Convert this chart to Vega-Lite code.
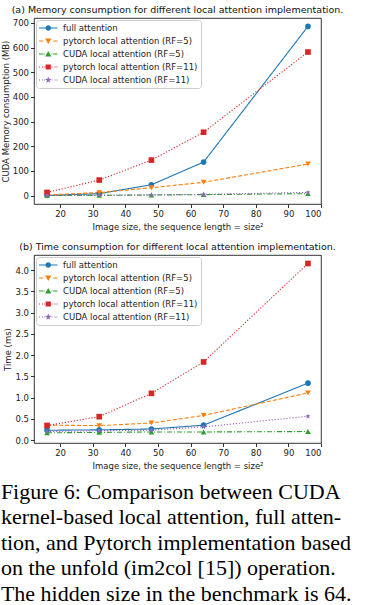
{
  "$schema": "https://vega.github.io/schema/vega-lite/v6.json",
  "padding": {"left": 0, "top": 4, "right": 2, "bottom": 0},
  "background": "white",
  "datasets": {
    "memory": [
      {"size": 16, "series": "full attention", "value": 1},
      {"size": 32, "series": "full attention", "value": 8},
      {"size": 48, "series": "full attention", "value": 44},
      {"size": 64, "series": "full attention", "value": 136},
      {"size": 96, "series": "full attention", "value": 686},
      {"size": 16, "series": "pytorch local attention (RF=5)", "value": 3},
      {"size": 32, "series": "pytorch local attention (RF=5)", "value": 12},
      {"size": 48, "series": "pytorch local attention (RF=5)", "value": 32},
      {"size": 64, "series": "pytorch local attention (RF=5)", "value": 54},
      {"size": 96, "series": "pytorch local attention (RF=5)", "value": 128},
      {"size": 16, "series": "CUDA local attention (RF=5)", "value": 0.3},
      {"size": 32, "series": "CUDA local attention (RF=5)", "value": 1},
      {"size": 48, "series": "CUDA local attention (RF=5)", "value": 2.5},
      {"size": 64, "series": "CUDA local attention (RF=5)", "value": 4},
      {"size": 96, "series": "CUDA local attention (RF=5)", "value": 8},
      {"size": 16, "series": "pytorch local attention (RF=11)", "value": 13},
      {"size": 32, "series": "pytorch local attention (RF=11)", "value": 63},
      {"size": 48, "series": "pytorch local attention (RF=11)", "value": 144},
      {"size": 64, "series": "pytorch local attention (RF=11)", "value": 257},
      {"size": 96, "series": "pytorch local attention (RF=11)", "value": 582},
      {"size": 16, "series": "CUDA local attention (RF=11)", "value": 0.5},
      {"size": 32, "series": "CUDA local attention (RF=11)", "value": 2},
      {"size": 48, "series": "CUDA local attention (RF=11)", "value": 3},
      {"size": 64, "series": "CUDA local attention (RF=11)", "value": 5},
      {"size": 96, "series": "CUDA local attention (RF=11)", "value": 13}
    ],
    "time": [
      {"size": 16, "series": "full attention", "value": 0.23},
      {"size": 32, "series": "full attention", "value": 0.24},
      {"size": 48, "series": "full attention", "value": 0.26},
      {"size": 64, "series": "full attention", "value": 0.35},
      {"size": 96, "series": "full attention", "value": 1.34},
      {"size": 16, "series": "pytorch local attention (RF=5)", "value": 0.35},
      {"size": 32, "series": "pytorch local attention (RF=5)", "value": 0.34},
      {"size": 48, "series": "pytorch local attention (RF=5)", "value": 0.40},
      {"size": 64, "series": "pytorch local attention (RF=5)", "value": 0.58},
      {"size": 96, "series": "pytorch local attention (RF=5)", "value": 1.11},
      {"size": 16, "series": "CUDA local attention (RF=5)", "value": 0.17},
      {"size": 32, "series": "CUDA local attention (RF=5)", "value": 0.18},
      {"size": 48, "series": "CUDA local attention (RF=5)", "value": 0.19},
      {"size": 64, "series": "CUDA local attention (RF=5)", "value": 0.19},
      {"size": 96, "series": "CUDA local attention (RF=5)", "value": 0.20},
      {"size": 16, "series": "pytorch local attention (RF=11)", "value": 0.34},
      {"size": 32, "series": "pytorch local attention (RF=11)", "value": 0.55},
      {"size": 48, "series": "pytorch local attention (RF=11)", "value": 1.10},
      {"size": 64, "series": "pytorch local attention (RF=11)", "value": 1.84},
      {"size": 96, "series": "pytorch local attention (RF=11)", "value": 4.16},
      {"size": 16, "series": "CUDA local attention (RF=11)", "value": 0.20},
      {"size": 32, "series": "CUDA local attention (RF=11)", "value": 0.22},
      {"size": 48, "series": "CUDA local attention (RF=11)", "value": 0.23},
      {"size": 64, "series": "CUDA local attention (RF=11)", "value": 0.31},
      {"size": 96, "series": "CUDA local attention (RF=11)", "value": 0.56}
    ]
  },
  "title": {
    "text": [
      "Figure 6: Comparison between CUDA",
      "kernel-based local attention, full atten-",
      "tion, and Pytorch implementation based",
      "on the unfold (im2col [15]) operation.",
      "The hidden size in the benchmark is 64."
    ],
    "orient": "bottom",
    "anchor": "start",
    "frame": "bounds",
    "font": "Liberation Serif",
    "fontSize": 22,
    "fontWeight": "normal",
    "lineHeight": 25.5,
    "offset": 12,
    "color": "black"
  },
  "config": {
    "font": "DejaVu Sans",
    "view": {"stroke": "black", "strokeWidth": 0.8},
    "axis": {
      "domain": false,
      "grid": false,
      "tickColor": "black",
      "tickSize": 3.5,
      "tickWidth": 0.8,
      "labelFont": "DejaVu Sans",
      "labelFontSize": 8.5,
      "labelColor": "#222",
      "labelPadding": 2,
      "titleFont": "DejaVu Sans",
      "titleFontSize": 8.5,
      "titleFontWeight": "normal",
      "titleColor": "#222"
    },
    "legend": {
      "orient": "top-left", "offset": 2, "padding": 3,
      "fillColor": "rgba(255,255,255,0.85)", "strokeColor": "#cccccc", "cornerRadius": 3,
      "labelFont": "DejaVu Sans", "labelFontSize": 8.5, "labelColor": "#222",
      "symbolSize": 100, "labelOffset": 14, "rowPadding": 3, "symbolStrokeWidth": 0, "symbolOpacity": 1
    }
  },
  "resolve": {
    "scale": {"x": "independent", "y": "independent", "color": "independent", "shape": "independent", "strokeDash": "independent"},
    "legend": {"color": "independent"}
  },
  "spacing": 10,
  "vconcat": [
    {
      "width": 287,
      "height": 186,
      "title": {"text": "(a) Memory consumption for different local attention implementation.", "font": "DejaVu Sans", "fontSize": 9.5, "fontWeight": "normal", "anchor": "middle", "offset": 4, "color": "#111"},
      "data": {"name": "memory"},
      "encoding": {
        "x": {"field": "size", "type": "quantitative", "scale": {"domain": [12, 100], "nice": false, "zero": false}, "axis": {"values": [20, 30, 40, 50, 60, 70, 80, 90, 100], "title": "Image size, the sequence length = size²", "titlePadding": 4}},
        "y": {"field": "value", "type": "quantitative", "scale": {"domain": [-34, 720], "nice": false, "zero": false}, "axis": {"values": [0, 100, 200, 300, 400, 500, 600, 700], "title": "CUDA Memory consumption (MB)", "titlePadding": 2}}
      },
      "resolve": {"scale": {"color": "independent", "shape": "independent"}, "legend": {"color": "independent"}},
      "layer": [
        {
          "mark": {"type": "line", "strokeWidth": 1.1},
          "encoding": {
            "color": {"field": "series", "type": "nominal", "scale": {"domain": ["full attention", "pytorch local attention (RF=5)", "CUDA local attention (RF=5)", "pytorch local attention (RF=11)", "CUDA local attention (RF=11)"], "range": ["#1f77b4", "#ff7f0e", "#2ca02c", "#d62728", "#9467bd"]}, "legend": null},
            "strokeDash": {"field": "series", "type": "nominal", "scale": {"domain": ["full attention", "pytorch local attention (RF=5)", "CUDA local attention (RF=5)", "pytorch local attention (RF=11)", "CUDA local attention (RF=11)"], "range": [[1, 0], [4, 2], [5, 2, 1, 2], [1.2, 1.8], [1.2, 1.8]]}, "legend": null}
          }
        },
        {
          "mark": {"type": "point", "filled": true, "opacity": 1, "size": 32},
          "encoding": {
            "color": {"field": "series", "type": "nominal", "scale": {"domain": ["full attention", "pytorch local attention (RF=5)", "CUDA local attention (RF=5)", "pytorch local attention (RF=11)", "CUDA local attention (RF=11)"], "range": ["#1f77b4", "#ff7f0e", "#2ca02c", "#d62728", "#9467bd"]}, "legend": null},
            "shape": {"field": "series", "type": "nominal", "scale": {"domain": ["full attention", "pytorch local attention (RF=5)", "CUDA local attention (RF=5)", "pytorch local attention (RF=11)", "CUDA local attention (RF=11)"], "range": ["circle", "triangle-down", "triangle-up", "square", "M0,-1L0.235,-0.324L0.951,-0.309L0.38,0.124L0.588,0.809L0,0.4L-0.588,0.809L-0.38,0.124L-0.951,-0.309L-0.235,-0.324Z"]}, "legend": null}
          }
        },
        {
          "mark": {"type": "point", "filled": true, "opacity": 0, "size": 100},
          "encoding": {
            "color": {"field": "series", "type": "nominal", "scale": {"domain": ["full attention", "pytorch local attention (RF=5)", "CUDA local attention (RF=5)", "pytorch local attention (RF=11)", "CUDA local attention (RF=11)"], "range": ["#1f77b4", "#ff7f0e", "#2ca02c", "#d62728", "#9467bd"]}, "legend": {"title": null}},
            "shape": {"field": "series", "type": "nominal", "scale": {"domain": ["full attention", "pytorch local attention (RF=5)", "CUDA local attention (RF=5)", "pytorch local attention (RF=11)", "CUDA local attention (RF=11)"], "range": [
              "M-1,-0.11H0.3V0.11H-1ZM1.4,-0.11H2.7V0.11H1.4ZM1.41,0A0.56,0.56 0 1,1 0.29,0A0.56,0.56 0 1,1 1.41,0Z",
              "M-1,-0.11H-0.15V0.11H-1ZM1.85,-0.11H2.7V0.11H1.85ZM0.23,-0.48L1.47,-0.48L0.85,0.6Z",
              "M-1,-0.11H-0.1V0.11H-1ZM0.05,-0.11H0.18V0.11H0.05ZM1.52,-0.11H1.65V0.11H1.52ZM1.8,-0.11H2.7V0.11H1.8ZM0.23,0.48L0.85,-0.6L1.47,0.48Z",
              "M-1,-0.11H-0.8V0.11H-1ZM-0.4,-0.11H-0.2V0.11H-0.4ZM0.05,-0.11H0.25V0.11H0.05ZM1.5,-0.11H1.7V0.11H1.5ZM2.1,-0.11H2.3V0.11H2.1ZM2.5,-0.11H2.7V0.11H2.5ZM0.33,-0.52H1.37V0.52H0.33Z",
              "M-1,-0.11H-0.8V0.11H-1ZM-0.4,-0.11H-0.2V0.11H-0.4ZM0.0,-0.11H0.15V0.11H0.0ZM1.55,-0.11H1.7V0.11H1.55ZM2.1,-0.11H2.3V0.11H2.1ZM2.5,-0.11H2.7V0.11H2.5ZM0.85,-0.7L1.015,-0.227L1.516,-0.216L1.116,0.087L1.261,0.566L0.85,0.28L0.439,0.566L0.584,0.087L0.184,-0.216L0.685,-0.227Z"
            ]}, "legend": null}
          }
        }
      ]
    },
    {
      "width": 287,
      "height": 188,
      "title": {"text": "(b) Time consumption for different local attention implementation.", "font": "DejaVu Sans", "fontSize": 9.5, "fontWeight": "normal", "anchor": "middle", "offset": 4, "color": "#111"},
      "data": {"name": "time"},
      "encoding": {
        "x": {"field": "size", "type": "quantitative", "scale": {"domain": [12, 100], "nice": false, "zero": false}, "axis": {"values": [20, 30, 40, 50, 60, 70, 80, 90, 100], "title": "Image size, the sequence length = size²", "titlePadding": 4}},
        "y": {"field": "value", "type": "quantitative", "scale": {"domain": [-0.07, 4.36], "nice": false, "zero": false}, "axis": {"values": [0, 0.5, 1, 1.5, 2, 2.5, 3, 3.5, 4], "format": ".1f", "title": "Time (ms)", "titlePadding": 2}}
      },
      "resolve": {"scale": {"color": "independent", "shape": "independent"}, "legend": {"color": "independent"}},
      "layer": [
        {
          "mark": {"type": "line", "strokeWidth": 1.1},
          "encoding": {
            "color": {"field": "series", "type": "nominal", "scale": {"domain": ["full attention", "pytorch local attention (RF=5)", "CUDA local attention (RF=5)", "pytorch local attention (RF=11)", "CUDA local attention (RF=11)"], "range": ["#1f77b4", "#ff7f0e", "#2ca02c", "#d62728", "#9467bd"]}, "legend": null},
            "strokeDash": {"field": "series", "type": "nominal", "scale": {"domain": ["full attention", "pytorch local attention (RF=5)", "CUDA local attention (RF=5)", "pytorch local attention (RF=11)", "CUDA local attention (RF=11)"], "range": [[1, 0], [4, 2], [5, 2, 1, 2], [1.2, 1.8], [1.2, 1.8]]}, "legend": null}
          }
        },
        {
          "mark": {"type": "point", "filled": true, "opacity": 1, "size": 32},
          "encoding": {
            "color": {"field": "series", "type": "nominal", "scale": {"domain": ["full attention", "pytorch local attention (RF=5)", "CUDA local attention (RF=5)", "pytorch local attention (RF=11)", "CUDA local attention (RF=11)"], "range": ["#1f77b4", "#ff7f0e", "#2ca02c", "#d62728", "#9467bd"]}, "legend": null},
            "shape": {"field": "series", "type": "nominal", "scale": {"domain": ["full attention", "pytorch local attention (RF=5)", "CUDA local attention (RF=5)", "pytorch local attention (RF=11)", "CUDA local attention (RF=11)"], "range": ["circle", "triangle-down", "triangle-up", "square", "M0,-1L0.235,-0.324L0.951,-0.309L0.38,0.124L0.588,0.809L0,0.4L-0.588,0.809L-0.38,0.124L-0.951,-0.309L-0.235,-0.324Z"]}, "legend": null}
          }
        },
        {
          "mark": {"type": "point", "filled": true, "opacity": 0, "size": 100},
          "encoding": {
            "color": {"field": "series", "type": "nominal", "scale": {"domain": ["full attention", "pytorch local attention (RF=5)", "CUDA local attention (RF=5)", "pytorch local attention (RF=11)", "CUDA local attention (RF=11)"], "range": ["#1f77b4", "#ff7f0e", "#2ca02c", "#d62728", "#9467bd"]}, "legend": {"title": null}},
            "shape": {"field": "series", "type": "nominal", "scale": {"domain": ["full attention", "pytorch local attention (RF=5)", "CUDA local attention (RF=5)", "pytorch local attention (RF=11)", "CUDA local attention (RF=11)"], "range": [
              "M-1,-0.11H0.3V0.11H-1ZM1.4,-0.11H2.7V0.11H1.4ZM1.41,0A0.56,0.56 0 1,1 0.29,0A0.56,0.56 0 1,1 1.41,0Z",
              "M-1,-0.11H-0.15V0.11H-1ZM1.85,-0.11H2.7V0.11H1.85ZM0.23,-0.48L1.47,-0.48L0.85,0.6Z",
              "M-1,-0.11H-0.1V0.11H-1ZM0.05,-0.11H0.18V0.11H0.05ZM1.52,-0.11H1.65V0.11H1.52ZM1.8,-0.11H2.7V0.11H1.8ZM0.23,0.48L0.85,-0.6L1.47,0.48Z",
              "M-1,-0.11H-0.8V0.11H-1ZM-0.4,-0.11H-0.2V0.11H-0.4ZM0.05,-0.11H0.25V0.11H0.05ZM1.5,-0.11H1.7V0.11H1.5ZM2.1,-0.11H2.3V0.11H2.1ZM2.5,-0.11H2.7V0.11H2.5ZM0.33,-0.52H1.37V0.52H0.33Z",
              "M-1,-0.11H-0.8V0.11H-1ZM-0.4,-0.11H-0.2V0.11H-0.4ZM0.0,-0.11H0.15V0.11H0.0ZM1.55,-0.11H1.7V0.11H1.55ZM2.1,-0.11H2.3V0.11H2.1ZM2.5,-0.11H2.7V0.11H2.5ZM0.85,-0.7L1.015,-0.227L1.516,-0.216L1.116,0.087L1.261,0.566L0.85,0.28L0.439,0.566L0.584,0.087L0.184,-0.216L0.685,-0.227Z"
            ]}, "legend": null}
          }
        }
      ]
    }
  ]
}
